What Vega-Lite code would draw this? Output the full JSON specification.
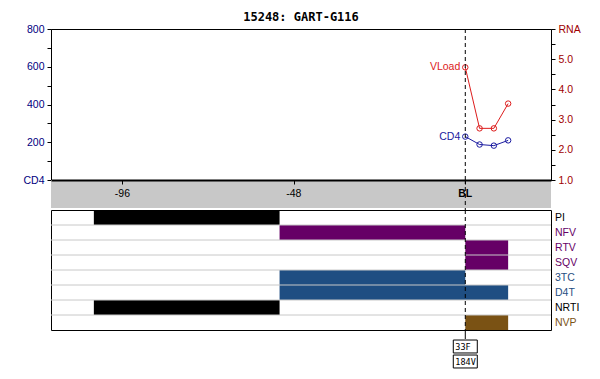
{
  "$schema": "https://vega.github.io/schema/vega-lite/v6.json",
  "background": "white",
  "padding": {"left": 5, "top": 10, "right": 5, "bottom": 2},
  "spacing": 0,
  "bounds": "flush",
  "config": {
    "view": {"stroke": null},
    "font": "Liberation Sans",
    "axis": {"labelFont": "Liberation Sans", "labelFontSize": 10.5, "grid": false, "title": null}
  },
  "datasets": {
    "cd4": [
      {"week": 0, "cd4": 230},
      {"week": 4, "cd4": 188},
      {"week": 8, "cd4": 182},
      {"week": 12, "cd4": 210}
    ],
    "vl": [
      {"week": 0, "rna": 4.73},
      {"week": 4, "rna": 2.71},
      {"week": 8, "rna": 2.71},
      {"week": 12, "rna": 3.53}
    ],
    "rx": [
      {"drug": "PI", "start": -104, "stop": -52},
      {"drug": "NRTI", "start": -104, "stop": -52},
      {"drug": "NFV", "start": -52, "stop": 0},
      {"drug": "3TC", "start": -52, "stop": 0},
      {"drug": "D4T", "start": -52, "stop": 12},
      {"drug": "RTV", "start": 0, "stop": 12},
      {"drug": "SQV", "start": 0, "stop": 12},
      {"drug": "NVP", "start": 0, "stop": 12}
    ],
    "rows": [
      {"drug": "NFV"}, {"drug": "RTV"}, {"drug": "SQV"}, {"drug": "3TC"},
      {"drug": "D4T"}, {"drug": "NRTI"}, {"drug": "NVP"}
    ],
    "names": [
      {"drug": "PI"}, {"drug": "NFV"}, {"drug": "RTV"}, {"drug": "SQV"}, {"drug": "3TC"},
      {"drug": "D4T"}, {"drug": "NRTI"}, {"drug": "NVP"}
    ],
    "bl": [{"week": 0}]
  },
  "vconcat": [
    {
      "width": 500,
      "height": 151,
      "title": {"text": "15248: GART-G116", "font": "DejaVu Sans Mono", "fontSize": 12, "fontWeight": "bold", "color": "black", "frame": "group", "anchor": "middle", "offset": 0},
      "view": {"stroke": "black", "strokeWidth": 1},
      "layer": [
        {
          "data": {"name": "cd4"},
          "encoding": {
            "x": {"field": "week", "type": "quantitative", "scale": {"domain": [-116, 24], "nice": false, "zero": false},
              "axis": {"values": [-108, -96, -84, -72, -60, -48, -36, -24, -12, 0, 12], "labels": false, "domain": false, "ticks": true, "tickSize": -4, "tickColor": "black"}},
            "y": {"field": "cd4", "type": "quantitative", "scale": {"domain": [0, 800], "nice": false, "zero": false},
              "axis": {"orient": "left", "values": [0, 100, 200, 300, 400, 500, 600, 700, 800], "labelExpr": "datum.value == 0 ? 'CD4' : (datum.value % 200 == 0 ? datum.label : '')", "labelColor": "#000080", "tickColor": "black", "domainColor": "black", "tickSize": 4, "labelPadding": 3, "labelOverlap": false, "labelFlush": false, "minExtent": 45, "maxExtent": 45}}
          },
          "layer": [
            {"mark": {"type": "line", "color": "#1a1aa0", "strokeWidth": 1}},
            {"mark": {"type": "point", "shape": "circle", "filled": false, "color": "#1a1aa0", "size": 30, "strokeWidth": 1, "opacity": 1}},
            {"transform": [{"filter": "datum.week == 0"}], "mark": {"type": "text", "align": "right", "baseline": "middle", "dx": -5, "color": "#1a1aa0", "fontSize": 10.5}, "encoding": {"text": {"value": "CD4"}}}
          ]
        },
        {
          "data": {"name": "vl"},
          "encoding": {
            "x": {"field": "week", "type": "quantitative", "axis": null},
            "y": {"field": "rna", "type": "quantitative", "scale": {"domain": [1, 6], "nice": false, "zero": false},
              "axis": {"orient": "right", "values": [1, 1.5, 2, 2.5, 3, 3.5, 4, 4.5, 5, 5.5, 6], "labelExpr": "datum.value == 6 ? 'RNA' : (datum.value % 1 == 0 ? format(datum.value, '.1f') : '')", "labelColor": "#a00000", "tickColor": "black", "domainColor": "black", "tickSize": 4, "labelPadding": 3, "labelOverlap": false, "labelFlush": false}}
          },
          "layer": [
            {"mark": {"type": "line", "color": "#dd1c1c", "strokeWidth": 1}},
            {"mark": {"type": "point", "shape": "circle", "filled": false, "color": "#dd1c1c", "size": 30, "strokeWidth": 1, "opacity": 1}},
            {"transform": [{"filter": "datum.week == 0"}], "mark": {"type": "text", "align": "right", "baseline": "middle", "dx": -5, "color": "#dd1c1c", "fontSize": 10.5}, "encoding": {"text": {"value": "VLoad"}}}
          ]
        },
        {
          "data": {"name": "bl"},
          "mark": {"type": "rule", "strokeDash": [4, 3], "color": "black", "strokeWidth": 1},
          "encoding": {"x": {"field": "week", "type": "quantitative", "axis": null}}
        }
      ],
      "resolve": {"scale": {"y": "independent"}}
    },
    {
      "width": 500,
      "height": 28,
      "view": {"fill": "#c8c8c8", "stroke": null},
      "encoding": {
        "x": {"field": "week", "type": "quantitative", "scale": {"domain": [-116, 24], "nice": false, "zero": false},
          "axis": {"orient": "top", "values": [-96, -48, 0], "labels": false, "domain": true, "domainColor": "black", "domainWidth": 2, "ticks": true, "tickSize": -4, "tickColor": "black"}}
      },
      "layer": [
        {"data": {"name": "bl"}, "mark": {"type": "rule", "strokeDash": [4, 3], "color": "black", "strokeWidth": 1}},
        {"data": {"values": [{"week": -96, "lab": "-96"}, {"week": -48, "lab": "-48"}]}, "mark": {"type": "text", "fontSize": 10.5, "color": "black", "baseline": "middle"}, "encoding": {"text": {"field": "lab"}}},
        {"data": {"values": [{"week": 0, "lab": "BL"}]}, "mark": {"type": "text", "fontSize": 10.5, "fontWeight": "bold", "color": "black", "baseline": "middle"}, "encoding": {"text": {"field": "lab"}}}
      ]
    },
    {
      "width": 500,
      "height": 2,
      "data": {"name": "bl"},
      "mark": {"type": "rule", "strokeDash": [2, 2], "color": "black", "strokeWidth": 1},
      "encoding": {"x": {"field": "week", "type": "quantitative", "scale": {"domain": [-116, 24], "nice": false, "zero": false}, "axis": null}}
    },
    {
      "width": 500,
      "height": 120,
      "view": {"stroke": "black", "strokeWidth": 1},
      "layer": [
        {
          "data": {"name": "rx"},
          "mark": {"type": "bar"},
          "encoding": {
            "x": {"field": "start", "type": "quantitative", "scale": {"domain": [-116, 24], "nice": false, "zero": false},
              "axis": {"orient": "bottom", "labels": false, "ticks": false, "domain": true, "domainWidth": 2, "domainColor": "black"}},
            "x2": {"field": "stop"},
            "y": {"field": "drug", "type": "nominal", "scale": {"domain": ["PI", "NFV", "RTV", "SQV", "3TC", "D4T", "NRTI", "NVP"], "paddingInner": 0, "paddingOuter": 0}, "axis": null},
            "color": {"field": "drug", "type": "nominal", "scale": {"domain": ["PI", "NFV", "RTV", "SQV", "3TC", "D4T", "NRTI", "NVP"], "range": ["#000000", "#660066", "#660066", "#660066", "#1f4e82", "#1f4e82", "#000000", "#7a5214"]}, "legend": null}
          }
        },
        {
          "data": {"name": "rows"},
          "mark": {"type": "rule", "color": "#c8c8c8", "strokeWidth": 1},
          "encoding": {"y": {"field": "drug", "type": "nominal", "bandPosition": 0, "axis": null}}
        },
        {
          "data": {"name": "names"},
          "mark": {"type": "text", "align": "left", "baseline": "middle", "dx": 4, "fontSize": 10.5, "font": "Liberation Sans"},
          "encoding": {
            "x": {"datum": 24, "type": "quantitative"},
            "y": {"field": "drug", "type": "nominal", "axis": null},
            "text": {"field": "drug"},
            "color": {"field": "drug", "type": "nominal", "legend": null}
          }
        },
        {
          "data": {"name": "bl"},
          "mark": {"type": "rule", "strokeDash": [4, 3], "color": "black", "strokeWidth": 1},
          "encoding": {"x": {"field": "week", "type": "quantitative", "axis": null}}
        }
      ]
    },
    {
      "width": 500,
      "height": 9,
      "data": {"name": "bl"},
      "mark": {"type": "rule", "color": "black", "strokeWidth": 1},
      "encoding": {"x": {"field": "week", "type": "quantitative", "scale": {"domain": [-116, 24], "nice": false, "zero": false}, "axis": null}}
    },
    {
      "width": 500,
      "height": 30,
      "data": {"values": [{"week": 0, "mut": "33F", "cls": "PI"}, {"week": 0, "mut": "184V", "cls": "NRTI"}]},
      "encoding": {
        "x": {"field": "week", "type": "quantitative", "scale": {"domain": [-116, 24], "nice": false, "zero": false}, "axis": null},
        "y": {"field": "mut", "type": "nominal", "scale": {"domain": ["33F", "184V"], "paddingInner": 0.24, "paddingOuter": 0}, "axis": null}
      },
      "layer": [
        {"mark": {"type": "point", "shape": "M-1,-0.54L1,-0.54L1,0.54L-1,0.54Z", "size": 576, "filled": true, "fill": "white", "stroke": "black", "strokeWidth": 1, "opacity": 1}},
        {"mark": {"type": "text", "font": "DejaVu Sans Mono", "fontSize": 8.5, "align": "left", "baseline": "middle", "dx": -10},
          "encoding": {"text": {"field": "mut"}, "color": {"field": "cls", "type": "nominal", "scale": {"domain": ["PI", "NRTI"], "range": ["#660066", "#1f4e82"]}, "legend": null}}}
      ]
    }
  ]
}
